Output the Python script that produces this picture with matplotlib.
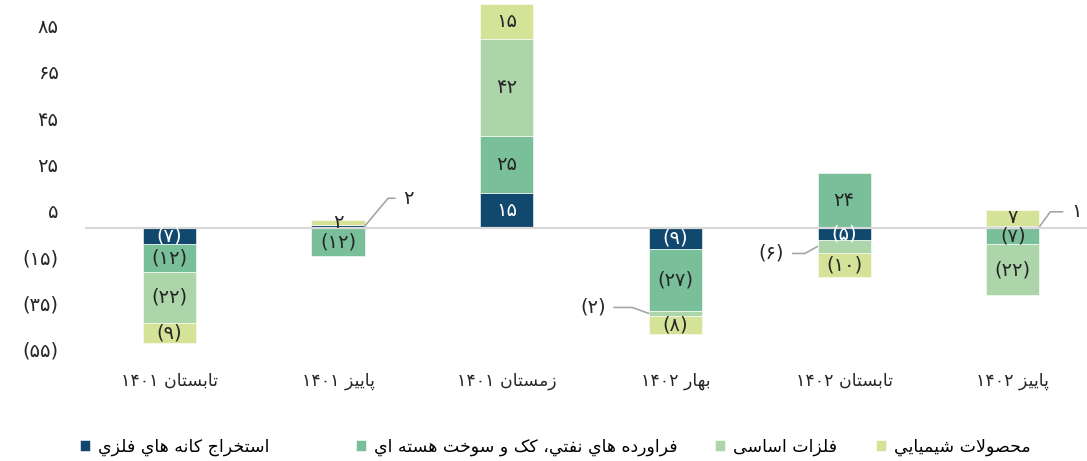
import re
import numpy as np
import matplotlib
matplotlib.use("Agg")
import matplotlib.pyplot as plt
from matplotlib.transforms import ScaledTranslation

plt.rcParams['font.family'] = ['DejaVu Sans']

# quarters and the four product groups
quarters = ['تابستان ۱۴۰۱', 'پاییز ۱۴۰۱', 'زمستان ۱۴۰۱', 'بهار ۱۴۰۲', 'تابستان ۱۴۰۲', 'پاییز ۱۴۰۲']
series_names = ['استخراج کانه هاي فلزي', 'فراورده هاي نفتي، کک و سوخت هسته اي', 'فلزات اساسی', 'محصولات شيميايي']
mining = [-7, 1.5, 15, -9, -5, 1]
oil = [-12, -12, 25, -27, 24, -7]
metals = [-22, 0, 42, -2, -6, -22]
chem = [-9, 2, 15, -8, -10, 7]
yticks = [85, 65, 45, 25, 5, -15, -35, -55]

colors = ['#11486e', '#79bf99', '#acd6aa', '#d4e398']
text_colors = ['white', '#262626', '#262626', '#262626']
legend_x = [80, 356, 715, 876]  # left edge of each legend square, px

# small segments labelled outside with a leader line: (series, quarter) -> (dx, dy px, side, angle)
leaders = {(0, 1): (44, 28, 1, 50), (2, 3): (-56, 6, -1, -20),
           (2, 4): (-46, -7, -1, 29), (0, 5): (37, 15, 1, 54)}

# --- minimal arabic/persian shaping, matplotlib has no RTL layout ---
FORMS = {
    'ا': ('\ufe8d', '\ufe8e', None, None), 'ب': ('\ufe8f', '\ufe90', '\ufe91', '\ufe92'),
    'پ': ('\ufb56', '\ufb57', '\ufb58', '\ufb59'), 'ت': ('\ufe95', '\ufe96', '\ufe97', '\ufe98'),
    'ج': ('\ufe9d', '\ufe9e', '\ufe9f', '\ufea0'), 'ح': ('\ufea1', '\ufea2', '\ufea3', '\ufea4'),
    'خ': ('\ufea5', '\ufea6', '\ufea7', '\ufea8'), 'د': ('\ufea9', '\ufeaa', None, None),
    'ر': ('\ufead', '\ufeae', None, None), 'ز': ('\ufeaf', '\ufeb0', None, None),
    'س': ('\ufeb1', '\ufeb2', '\ufeb3', '\ufeb4'), 'ش': ('\ufeb5', '\ufeb6', '\ufeb7', '\ufeb8'),
    'ص': ('\ufeb9', '\ufeba', '\ufebb', '\ufebc'), 'ف': ('\ufed1', '\ufed2', '\ufed3', '\ufed4'),
    'ک': ('\ufb8e', '\ufb8f', '\ufb90', '\ufb91'), 'ل': ('\ufedd', '\ufede', '\ufedf', '\ufee0'),
    'م': ('\ufee1', '\ufee2', '\ufee3', '\ufee4'), 'ن': ('\ufee5', '\ufee6', '\ufee7', '\ufee8'),
    'ه': ('\ufee9', '\ufeea', '\ufeeb', '\ufeec'), 'و': ('\ufeed', '\ufeee', None, None),
    'ي': ('\ufef1', '\ufef2', '\ufef3', '\ufef4'), 'ی': ('\ufbfc', '\ufbfd', '\ufbfe', '\ufbff'),
    '\ufefb': ('\ufefb', '\ufefc', None, None),
}


def rtl(s):
    s = s.replace('لا', '\ufefb')
    out = []
    for i, c in enumerate(s):
        if c not in FORMS:
            out.append(c)
            continue
        prev = s[i - 1] if i > 0 else ''
        nxt = s[i + 1] if i + 1 < len(s) else ''
        iso, fin, ini, med = FORMS[c]
        jp = prev in FORMS and FORMS[prev][2] is not None
        jn = nxt in FORMS and ini is not None
        if jp and jn:
            out.append(med)
        elif jp:
            out.append(fin)
        elif jn:
            out.append(ini)
        else:
            out.append(iso)
    tokens = re.findall(r'[۰-۹0-9]+|[^۰-۹0-9]', ''.join(out))
    return ''.join(reversed(tokens))


def fa(v):
    t = str(int(round(abs(v)))).translate(str.maketrans('0123456789', '۰۱۲۳۴۵۶۷۸۹'))
    return '(' + t + ')' if v < 0 else t


fig = plt.figure(figsize=(10.87, 4.61), dpi=100)
ax = fig.add_axes([85 / 1087, 1 - 366.6 / 461, 1 - 85 / 1087, 365 / 461])

x = np.arange(len(quarters))
width = 0.315
data = np.array([mining, oil, metals, chem], dtype=float)
pos_bottom = np.zeros(len(x))
neg_bottom = np.zeros(len(x))
handles = []
for s, vals in enumerate(data):
    bottom = np.where(vals >= 0, pos_bottom, neg_bottom)
    bars = ax.bar(x, vals, width, bottom=bottom, color=colors[s], edgecolor='white',
                  linewidth=0.4, zorder=2)
    handles.append(bars)
    for i, v in enumerate(vals):
        if v == 0:
            continue
        mid = bottom[i] + v / 2
        if (s, i) in leaders:
            dx, dy, side, ang = leaders[(s, i)]
            ax.annotate(fa(v), xy=(x[i] + side * width / 2, mid), xytext=(dx, dy),
                        textcoords='offset pixels', ha='center', va='center',
                        fontsize=14, color='#262626',
                        arrowprops=dict(arrowstyle='-', color='#a6a6a6', lw=1.2,
                                        shrinkA=4, shrinkB=0,
                                        connectionstyle='angle,angleA=0,angleB=%d,rad=0' % ang))
        else:
            ax.text(x[i], mid, fa(v), ha='center', va='center', fontsize=14,
                    color=text_colors[s], zorder=4)
    pos_bottom += np.where(vals >= 0, vals, 0)
    neg_bottom += np.where(vals < 0, vals, 0)

ax.axhline(0, color='#d9d9d9', lw=1.6, zorder=3)

ax.set_xlim(-0.5, 5.44)
ax.set_ylim(-60, 98)
ax.set_xticks(x)
ax.set_xticklabels([rtl(q) for q in quarters], fontsize=12.5, color='#262626')
ax.set_yticks(yticks)
ax.set_yticklabels([fa(t) for t in yticks], fontsize=14, color='#262626')
ax.tick_params(axis='both', length=0)
ax.tick_params(axis='y', pad=19)
ax.tick_params(axis='x', pad=4)
for sp in ax.spines.values():
    sp.set_visible(False)
shift = ScaledTranslation(0, 6 / 100, fig.dpi_scale_trans)
for lab in ax.get_yticklabels():
    lab.set_transform(lab.get_transform() + shift)

# one legend per entry so the uneven spacing of the original can be kept
for h, name, lx in zip(handles, series_names, legend_x):
    fig.legend([h], [rtl(name)], loc='center left', frameon=False,
               bbox_to_anchor=(lx / 1087, 14 / 461), fontsize=12.5,
               borderpad=0, borderaxespad=0, handlelength=0.55, handleheight=0.55,
               handletextpad=0.5)

fig.savefig('out.png', dpi=100)
